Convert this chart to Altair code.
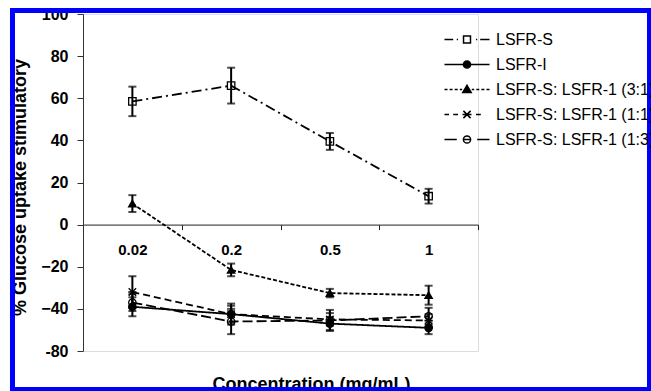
import altair as alt
import pandas as pd

conc = ["0.02", "0.2", "0.5", "1"]
series = ["LSFR-S", "LSFR-I", "LSFR-S: LSFR-1 (3:1)", "LSFR-S: LSFR-1 (1:1)", "LSFR-S: LSFR-1 (1:3)"]

lsfr_s = [58.5, 66, 39.5, 13.5]
lsfr_s_err = [7, 8.5, 4, 3.5]
lsfr_i = [-39, -42.5, -47, -49]
lsfr_i_err = [4.5, 4, 3, 3]
mix31 = [10, -21.5, -32.5, -33.5]
mix31_err = [4, 3, 2, 4.5]
mix11 = [-32, -42.5, -45, -45.5]
mix11_err = [7.5, 5, 3, 3]
mix13 = [-37, -46, -45.5, -43.5]
mix13_err = [4, 6, 5, 4]

y_ticks = [-60, -40, -20, 0, 20, 40, 60, 80, 100]

means = [lsfr_s, lsfr_i, mix31, mix11, mix13]
errs = [lsfr_s_err, lsfr_i_err, mix31_err, mix11_err, mix13_err]
rows = []
for s, m, e in zip(series, means, errs):
    for c, v, d in zip(conc, m, e):
        rows.append({"series": s, "conc": c, "mean": v, "lo": v - d, "hi": v + d})
df = pd.DataFrame(rows)

FONT = "Liberation Sans"

# styles
dashes = [[10, 4, 2, 4], [1, 0], [4, 2], [7, 4], [10, 4]]
asterisk = "M-1,-1L1,1M-1,1L1,-1M-1.1,0L1.1,0"
point_shapes = ["square", "circle", "triangle-up", asterisk, "circle"]
point_fills = ["transparent", "black", "black", "transparent", "transparent"]

circ = "M-0.6,0A0.6,0.6 0 1,0 0.6,0A0.6,0.6 0 1,0 -0.6,0Z"
leg_paths = [
    "M-3.75,0L-2.3,0M-1.7,0L-1.5,0M-0.58,-0.58L0.58,-0.58L0.58,0.58L-0.58,0.58ZM1.5,0L1.7,0M2.2,0L3.75,0",
    "M-3.75,0L3.75,0" + circ,
    "M-3.75,0L-3.25,0M-2.9,0L-2.4,0M-2.05,0L-1.55,0M-1.2,0L-0.8,0"
    "M0,-0.7L0.7,0.5L-0.7,0.5Z"
    "M0.8,0L1.2,0M1.55,0L2.05,0M2.4,0L2.9,0M3.25,0L3.75,0",
    "M-3.75,0L-3.0,0M-2.3,0L-1.5,0M-0.6,-0.6L0.6,0.6M-0.6,0.6L0.6,-0.6M-0.75,0L0.75,0M1.5,0L2.3,0",
    "M-3.75,0L-1.7,0" + circ + "M-0.6,0L0.6,0M1.7,0L3.75,0",
]
leg_strokes = ["black"] * 5

x_enc = alt.X(
    "conc:N",
    sort=conc,
    scale=alt.Scale(type="band", domain=conc, paddingInner=0, paddingOuter=0),
    axis=alt.Axis(
        orient="bottom", offset=-126.4, tickBand="extent", labelAngle=0,
        labelFontSize=15, labelFontWeight="bold", labelColor="black", labelFont=FONT,
        labelBaseline="middle", labelPadding=20, tickSize=5, tickColor="#222",
        domainColor="#222", domainWidth=1,
        title="Concentration (mg/mL)", titleFont=FONT, titleFontSize=18,
        titleFontWeight="bold", titleColor="black", titleX=228, titleY=165,
        titleAlign="center", titleBaseline="alphabetic", titleAnchor="start",
    ),
)
y_scale = alt.Scale(domain=[-60, 100], nice=False, zero=False)
y_enc = alt.Y(
    "mean:Q",
    scale=y_scale,
    axis=alt.Axis(
        values=y_ticks, labelExpr="datum.value == -60 ? '-80' : datum.label",
        labelFontSize=16, labelFontWeight="bold", labelColor="black", labelFont=FONT,
        labelPadding=9, tickSize=6, tickColor="#333", domainColor="#333",
        labelFlush=False, labelOverlap=False, grid=False,
        title="% Glucose uptake stimulatory", titleFont=FONT, titleFontSize=18,
        titleFontWeight="bold", titleColor="black", titleAngle=270,
        titleX=-63, titleY=173, titleAlign="center", titleBaseline="middle",
        titleAnchor="start",
    ),
)

lines = alt.Chart(df).mark_line(color="black", strokeWidth=1.8).encode(
    x=x_enc, y=y_enc,
    strokeDash=alt.StrokeDash("series:N", scale=alt.Scale(domain=series, range=dashes), legend=None),
)
bars = alt.Chart(df).mark_rule(color="black", strokeWidth=2).encode(
    x=x_enc, y=alt.Y("lo:Q", scale=y_scale), y2="hi:Q"
)
cap_lo = alt.Chart(df).mark_tick(color="black", thickness=2, size=8).encode(
    x=x_enc, y=alt.Y("lo:Q", scale=y_scale)
)
cap_hi = alt.Chart(df).mark_tick(color="black", thickness=2, size=8).encode(
    x=x_enc, y=alt.Y("hi:Q", scale=y_scale)
)
points = alt.Chart(df).mark_point(stroke="black", strokeWidth=1.3, size=55, opacity=1).encode(
    x=x_enc, y=y_enc,
    shape=alt.Shape("series:N", scale=alt.Scale(domain=series, range=point_shapes), legend=None),
    fill=alt.Fill("series:N", scale=alt.Scale(domain=series, range=point_fills), legend=None),
)

leg_kw = dict(
    title=None, orient="none", legendX=376, legendY=17.5, symbolSize=144,
    symbolStrokeWidth=1.5, symbolStrokeColor="black", symbolOpacity=1,
    labelFontSize=16, labelFont=FONT, labelColor="black", labelOffset=21,
    rowPadding=9, labelLimit=400, padding=0,
)
legend_layer = alt.Chart(df).mark_point(color="black", stroke="black", strokeWidth=1.5, opacity=0).encode(
    x=x_enc, y=y_enc,
    shape=alt.Shape("series:N", scale=alt.Scale(domain=series, range=leg_paths), legend=alt.Legend(**leg_kw)),
    fill=alt.Fill("series:N", scale=alt.Scale(domain=series, range=point_fills), legend=alt.Legend(**leg_kw)),
    stroke=alt.Stroke("series:N", scale=alt.Scale(domain=series, range=leg_strokes), legend=alt.Legend(**leg_kw)),
)

border = alt.Chart(pd.DataFrame({"k": [0]})).mark_rect(
    fill="transparent", stroke="#0000ff", strokeWidth=5
).encode(
    x=alt.value(-70.5), x2=alt.value(566.5), y=alt.value(-3.5), y2=alt.value(375.5)
)

chart = alt.layer(lines, bars, cap_lo, cap_hi, points, legend_layer, border).resolve_scale(
    shape="independent", fill="independent", stroke="independent"
).properties(
    width=395, height=337,
    padding={"left": 83, "top": 14, "right": 173, "bottom": 40},
    autosize=alt.AutoSizeParams(type="none"),
    background="white",
).configure_view(stroke=None).configure(font=FONT)

chart.save("out.html", embed_options={"renderer": "svg", "actions": False})
